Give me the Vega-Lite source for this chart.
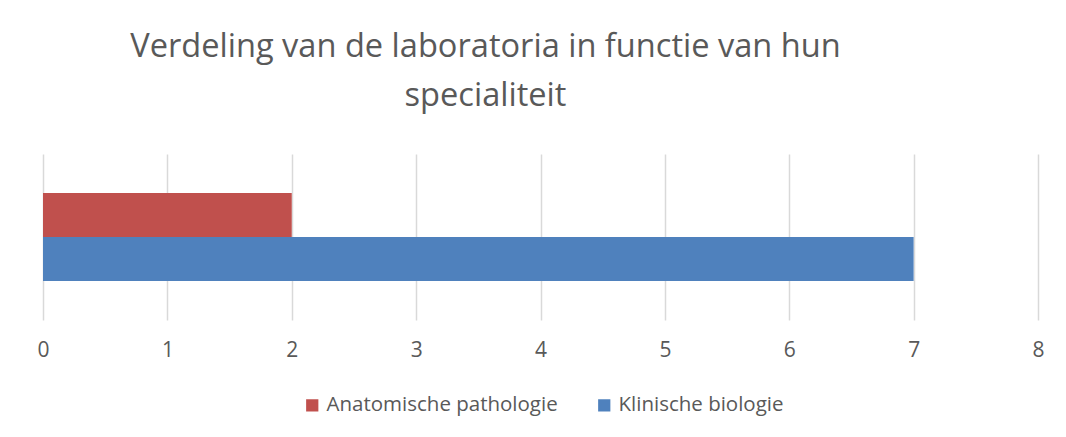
{
  "$schema": "https://vega.github.io/schema/vega-lite/v6.json",
  "autosize": "none",
  "width": 995,
  "height": 166,
  "padding": {"left": 43, "top": 154, "right": 28, "bottom": 117},
  "background": "white",
  "title": {
    "text": ["Verdeling van de laboratoria in functie van hun", "specialiteit"],
    "anchor": "middle",
    "frame": "group",
    "dx": -55,
    "offset": 41,
    "fontSize": 32.6,
    "font": "Open Sans",
    "fontWeight": "normal",
    "color": "#595959",
    "lineHeight": 49
  },
  "data": {
    "values": [
      {"specialiteit": "Anatomische pathologie", "aantal": 2},
      {"specialiteit": "Klinische biologie", "aantal": 7}
    ]
  },
  "mark": {"type": "bar"},
  "encoding": {
    "y": {
      "field": "specialiteit",
      "type": "nominal",
      "sort": ["Anatomische pathologie", "Klinische biologie"],
      "scale": {"paddingInner": 0, "paddingOuter": 0.886},
      "axis": null
    },
    "x": {
      "field": "aantal",
      "type": "quantitative",
      "scale": {"domain": [0, 8], "nice": false},
      "axis": {
        "values": [0, 1, 2, 3, 4, 5, 6, 7, 8],
        "title": null,
        "domain": false,
        "ticks": false,
        "grid": true,
        "gridColor": "#d9d9d9",
        "gridWidth": 1.5,
        "labelFlush": false,
        "labelFont": "Open Sans",
        "labelFontSize": 21,
        "labelColor": "#595959",
        "labelPadding": 19
      }
    },
    "color": {
      "field": "specialiteit",
      "type": "nominal",
      "scale": {
        "domain": ["Anatomische pathologie", "Klinische biologie"],
        "range": ["#c0504d", "#4f81bd"]
      },
      "legend": {
        "title": null,
        "orient": "none",
        "direction": "horizontal",
        "legendX": 259,
        "legendY": 241,
        "symbolType": "square",
        "symbolSize": 150,
        "symbolStrokeWidth": 0,
        "labelFont": "Open Sans",
        "labelFontSize": 20.5,
        "labelColor": "#595959",
        "labelOffset": 4,
        "columnPadding": 36,
        "labelLimit": 400
      }
    }
  },
  "config": {"view": {"stroke": null}}
}
